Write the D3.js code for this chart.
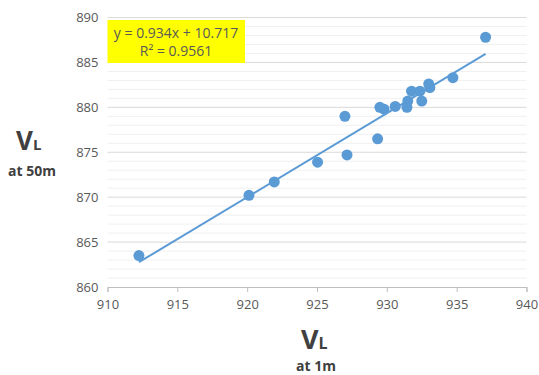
<!DOCTYPE html>
<html>
<head>
<meta charset="utf-8">
<script src="https://cdn.jsdelivr.net/npm/d3@7"></script>
<style>
  body { margin: 0; background: #fff; }
  svg text { font-family: "Open Sans", "Liberation Sans", sans-serif; }
</style>
</head>
<body>
<div id="chart"></div>
<script>
// VL at 1m (x) vs VL at 50m (y)
const vl1m = [912.25, 920.13, 921.94, 925.04, 927.0, 927.15, 929.34, 929.5, 929.8, 930.6,
              931.44, 931.5, 931.77, 932.37, 932.5, 933.0, 933.08, 934.73, 937.07];
const vl50m = [863.5, 870.2, 871.7, 873.9, 879.0, 874.7, 876.5, 880.0, 879.8, 880.1,
               880.0, 880.7, 881.8, 881.8, 880.7, 882.6, 882.2, 883.3, 887.8];
const xTicks = [910, 915, 920, 925, 930, 935, 940];
const yTicks = [860, 865, 870, 875, 880, 885, 890];
const slope = 0.934, intercept = 10.717;
const eqLines = ["y = 0.934x + 10.717", "R² = 0.9561"];

const width = 539, height = 375;
const margin = { top: 17.5, right: 12.5, bottom: 88, left: 107.5 };
const blue = "#5b9bd5", labelColor = "#595959";

const svg = d3.select("#chart").append("svg")
    .attr("width", width)
    .attr("height", height);

const x = d3.scaleLinear().domain([910, 940]).range([margin.left, width - margin.right]);
const y = d3.scaleLinear().domain([860, 890]).range([height - margin.bottom, margin.top]);

// minor gridlines every 1
svg.append("g")
    .selectAll("line")
    .data(d3.range(861, 890).filter(v => v % 5 !== 0))
    .join("line")
    .attr("x1", x(910)).attr("x2", x(940))
    .attr("y1", d => y(d)).attr("y2", d => y(d))
    .attr("stroke", "#f0f0f0").attr("stroke-width", 1);

// major gridlines
svg.append("g")
    .selectAll("line")
    .data(yTicks.slice(1))
    .join("line")
    .attr("x1", x(910)).attr("x2", x(940))
    .attr("y1", d => y(d)).attr("y2", d => y(d))
    .attr("stroke", "#d9d9d9").attr("stroke-width", 1);

// x axis
const xAxis = svg.append("g")
    .attr("transform", `translate(0,${y(860)})`)
    .call(d3.axisBottom(x).tickValues(xTicks).tickSize(5).tickPadding(8));
xAxis.select(".domain").attr("stroke", "#bfbfbf");
xAxis.selectAll(".tick line").attr("stroke", "#bfbfbf");
xAxis.selectAll(".tick text").attr("fill", labelColor).style("font-size", "13px");

// y axis labels only
const yAxis = svg.append("g")
    .attr("transform", `translate(${x(910)},0)`)
    .call(d3.axisLeft(y).tickValues(yTicks).tickSize(0).tickPadding(9));
yAxis.select(".domain").remove();
yAxis.selectAll(".tick text").attr("fill", labelColor).style("font-size", "13px");

// trendline
const xMin = d3.min(vl1m), xMax = d3.max(vl1m);
svg.append("line")
    .attr("x1", x(xMin)).attr("y1", y(slope * xMin + intercept))
    .attr("x2", x(xMax)).attr("y2", y(slope * xMax + intercept))
    .attr("stroke", blue).attr("stroke-width", 2);

// points
svg.append("g")
    .selectAll("circle")
    .data(vl1m.map((v, i) => [v, vl50m[i]]))
    .join("circle")
    .attr("cx", d => x(d[0]))
    .attr("cy", d => y(d[1]))
    .attr("r", 5.5)
    .attr("fill", blue);

// equation box
svg.append("rect")
    .attr("x", 107.5).attr("y", 20)
    .attr("width", 137.5).attr("height", 43)
    .attr("fill", "#ffff00");
svg.append("g")
    .selectAll("text")
    .data(eqLines)
    .join("text")
    .attr("x", 176)
    .attr("y", (d, i) => 38 + i * 18)
    .attr("text-anchor", "middle")
    .attr("fill", labelColor)
    .style("font-size", "14px")
    .text(d => d);

// y axis title
const yTitle = svg.append("text")
    .attr("x", 16).attr("y", 150)
    .attr("fill", "#404040")
    .style("font-weight", "bold");
yTitle.append("tspan").style("font-size", "26px").text("V");
yTitle.append("tspan").style("font-size", "15px").text("L");
svg.append("text")
    .attr("x", 32).attr("y", 176)
    .attr("text-anchor", "middle")
    .attr("fill", "#404040")
    .style("font-weight", "bold")
    .style("font-size", "14px")
    .text("at 50m");

// x axis title
const xTitle = svg.append("text")
    .attr("x", 301).attr("y", 349)
    .attr("fill", "#404040")
    .style("font-weight", "bold");
xTitle.append("tspan").style("font-size", "27px").text("V");
xTitle.append("tspan").style("font-size", "16px").text("L");
svg.append("text")
    .attr("x", 316).attr("y", 371)
    .attr("text-anchor", "middle")
    .attr("fill", "#404040")
    .style("font-weight", "bold")
    .style("font-size", "14px")
    .text("at 1m");
</script>
</body>
</html>
